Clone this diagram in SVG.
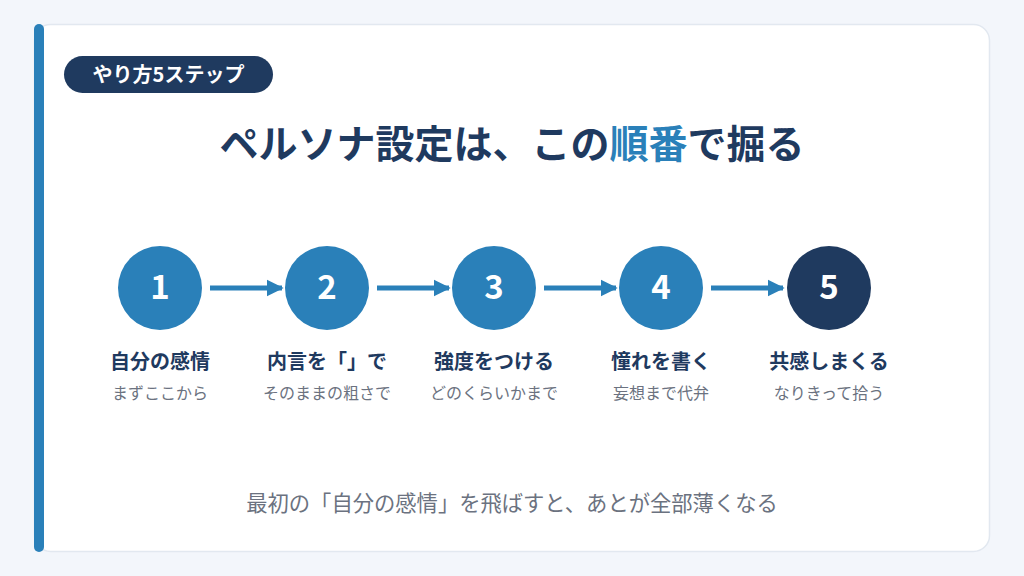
<svg xmlns="http://www.w3.org/2000/svg" width="1024" height="576" viewBox="0 0 1024 576">
  <defs>
    <style>
      text { font-family: "Noto Sans CJK JP", "Noto Sans", sans-serif; }
      .num { font-size: 33px; font-weight: 700; fill: #ffffff; text-anchor: middle; }
      .lbl { font-size: 20px; font-weight: 700; fill: #1f3a5f; text-anchor: middle; }
      .sub { font-size: 16px; font-weight: 400; fill: #6b7280; text-anchor: middle; }
      .conn { stroke: #2a80b9; stroke-width: 5; fill: none; }
    </style>
    <marker id="ah" viewBox="0 0 10 10" refX="9" refY="5" markerWidth="3.4" markerHeight="3.6" orient="auto" markerUnits="strokeWidth">
      <path d="M0,0 L10,5 L0,10 Z" fill="#2a80b9"/>
    </marker>
  </defs>
  <rect x="0" y="0" width="1024" height="576" fill="#f3f6fb"/>
  <rect x="34.5" y="24.5" width="955" height="527" rx="16" fill="#ffffff" stroke="#e2e8f0" stroke-width="1.5"/>
  <rect x="34" y="24" width="10" height="528" rx="5" fill="#2a80b9"/>

  <g id="badge">
    <rect x="64" y="56" width="209" height="37" rx="18.5" fill="#1f3a5f"/>
    <text x="168.5" y="81.5" font-size="20" font-weight="700" fill="#ffffff" text-anchor="middle">やり方5ステップ</text>
  </g>

  <g id="title">
    <text x="512" y="158" font-size="39" font-weight="700" fill="#1f3a5f" text-anchor="middle">ペルソナ設定は、この<tspan fill="#2a80b9">順番</tspan>で掘る</text>
  </g>

  <g id="connectors">
    <line class="conn" x1="210" y1="288" x2="282" y2="288" marker-end="url(#ah)"/>
    <line class="conn" x1="377" y1="288" x2="449" y2="288" marker-end="url(#ah)"/>
    <line class="conn" x1="544" y1="288" x2="616" y2="288" marker-end="url(#ah)"/>
    <line class="conn" x1="711" y1="288" x2="783" y2="288" marker-end="url(#ah)"/>
  </g>

  <g id="step1">
    <circle cx="160" cy="288" r="42" fill="#2a80b9"/>
    <text class="num" x="160" y="299">1</text>
    <text class="lbl" x="160" y="369">自分の感情</text>
    <text class="sub" x="160" y="399">まずここから</text>
  </g>
  <g id="step2">
    <circle cx="327" cy="288" r="42" fill="#2a80b9"/>
    <text class="num" x="327" y="299">2</text>
    <text class="lbl" x="327" y="369">内言を「」で</text>
    <text class="sub" x="327" y="399">そのままの粗さで</text>
  </g>
  <g id="step3">
    <circle cx="494" cy="288" r="42" fill="#2a80b9"/>
    <text class="num" x="494" y="299">3</text>
    <text class="lbl" x="494" y="369">強度をつける</text>
    <text class="sub" x="494" y="399">どのくらいかまで</text>
  </g>
  <g id="step4">
    <circle cx="661" cy="288" r="42" fill="#2a80b9"/>
    <text class="num" x="661" y="299">4</text>
    <text class="lbl" x="661" y="369">憧れを書く</text>
    <text class="sub" x="661" y="399">妄想まで代弁</text>
  </g>
  <g id="step5">
    <circle cx="829" cy="288" r="42" fill="#1f3a5f"/>
    <text class="num" x="829" y="299">5</text>
    <text class="lbl" x="829" y="369">共感しまくる</text>
    <text class="sub" x="829" y="399">なりきって拾う</text>
  </g>

  <g id="note">
    <text x="512" y="511" font-size="21.3" fill="#6b7280" text-anchor="middle">最初の「自分の感情」を飛ばすと、あとが全部薄くなる</text>
  </g>
</svg>
